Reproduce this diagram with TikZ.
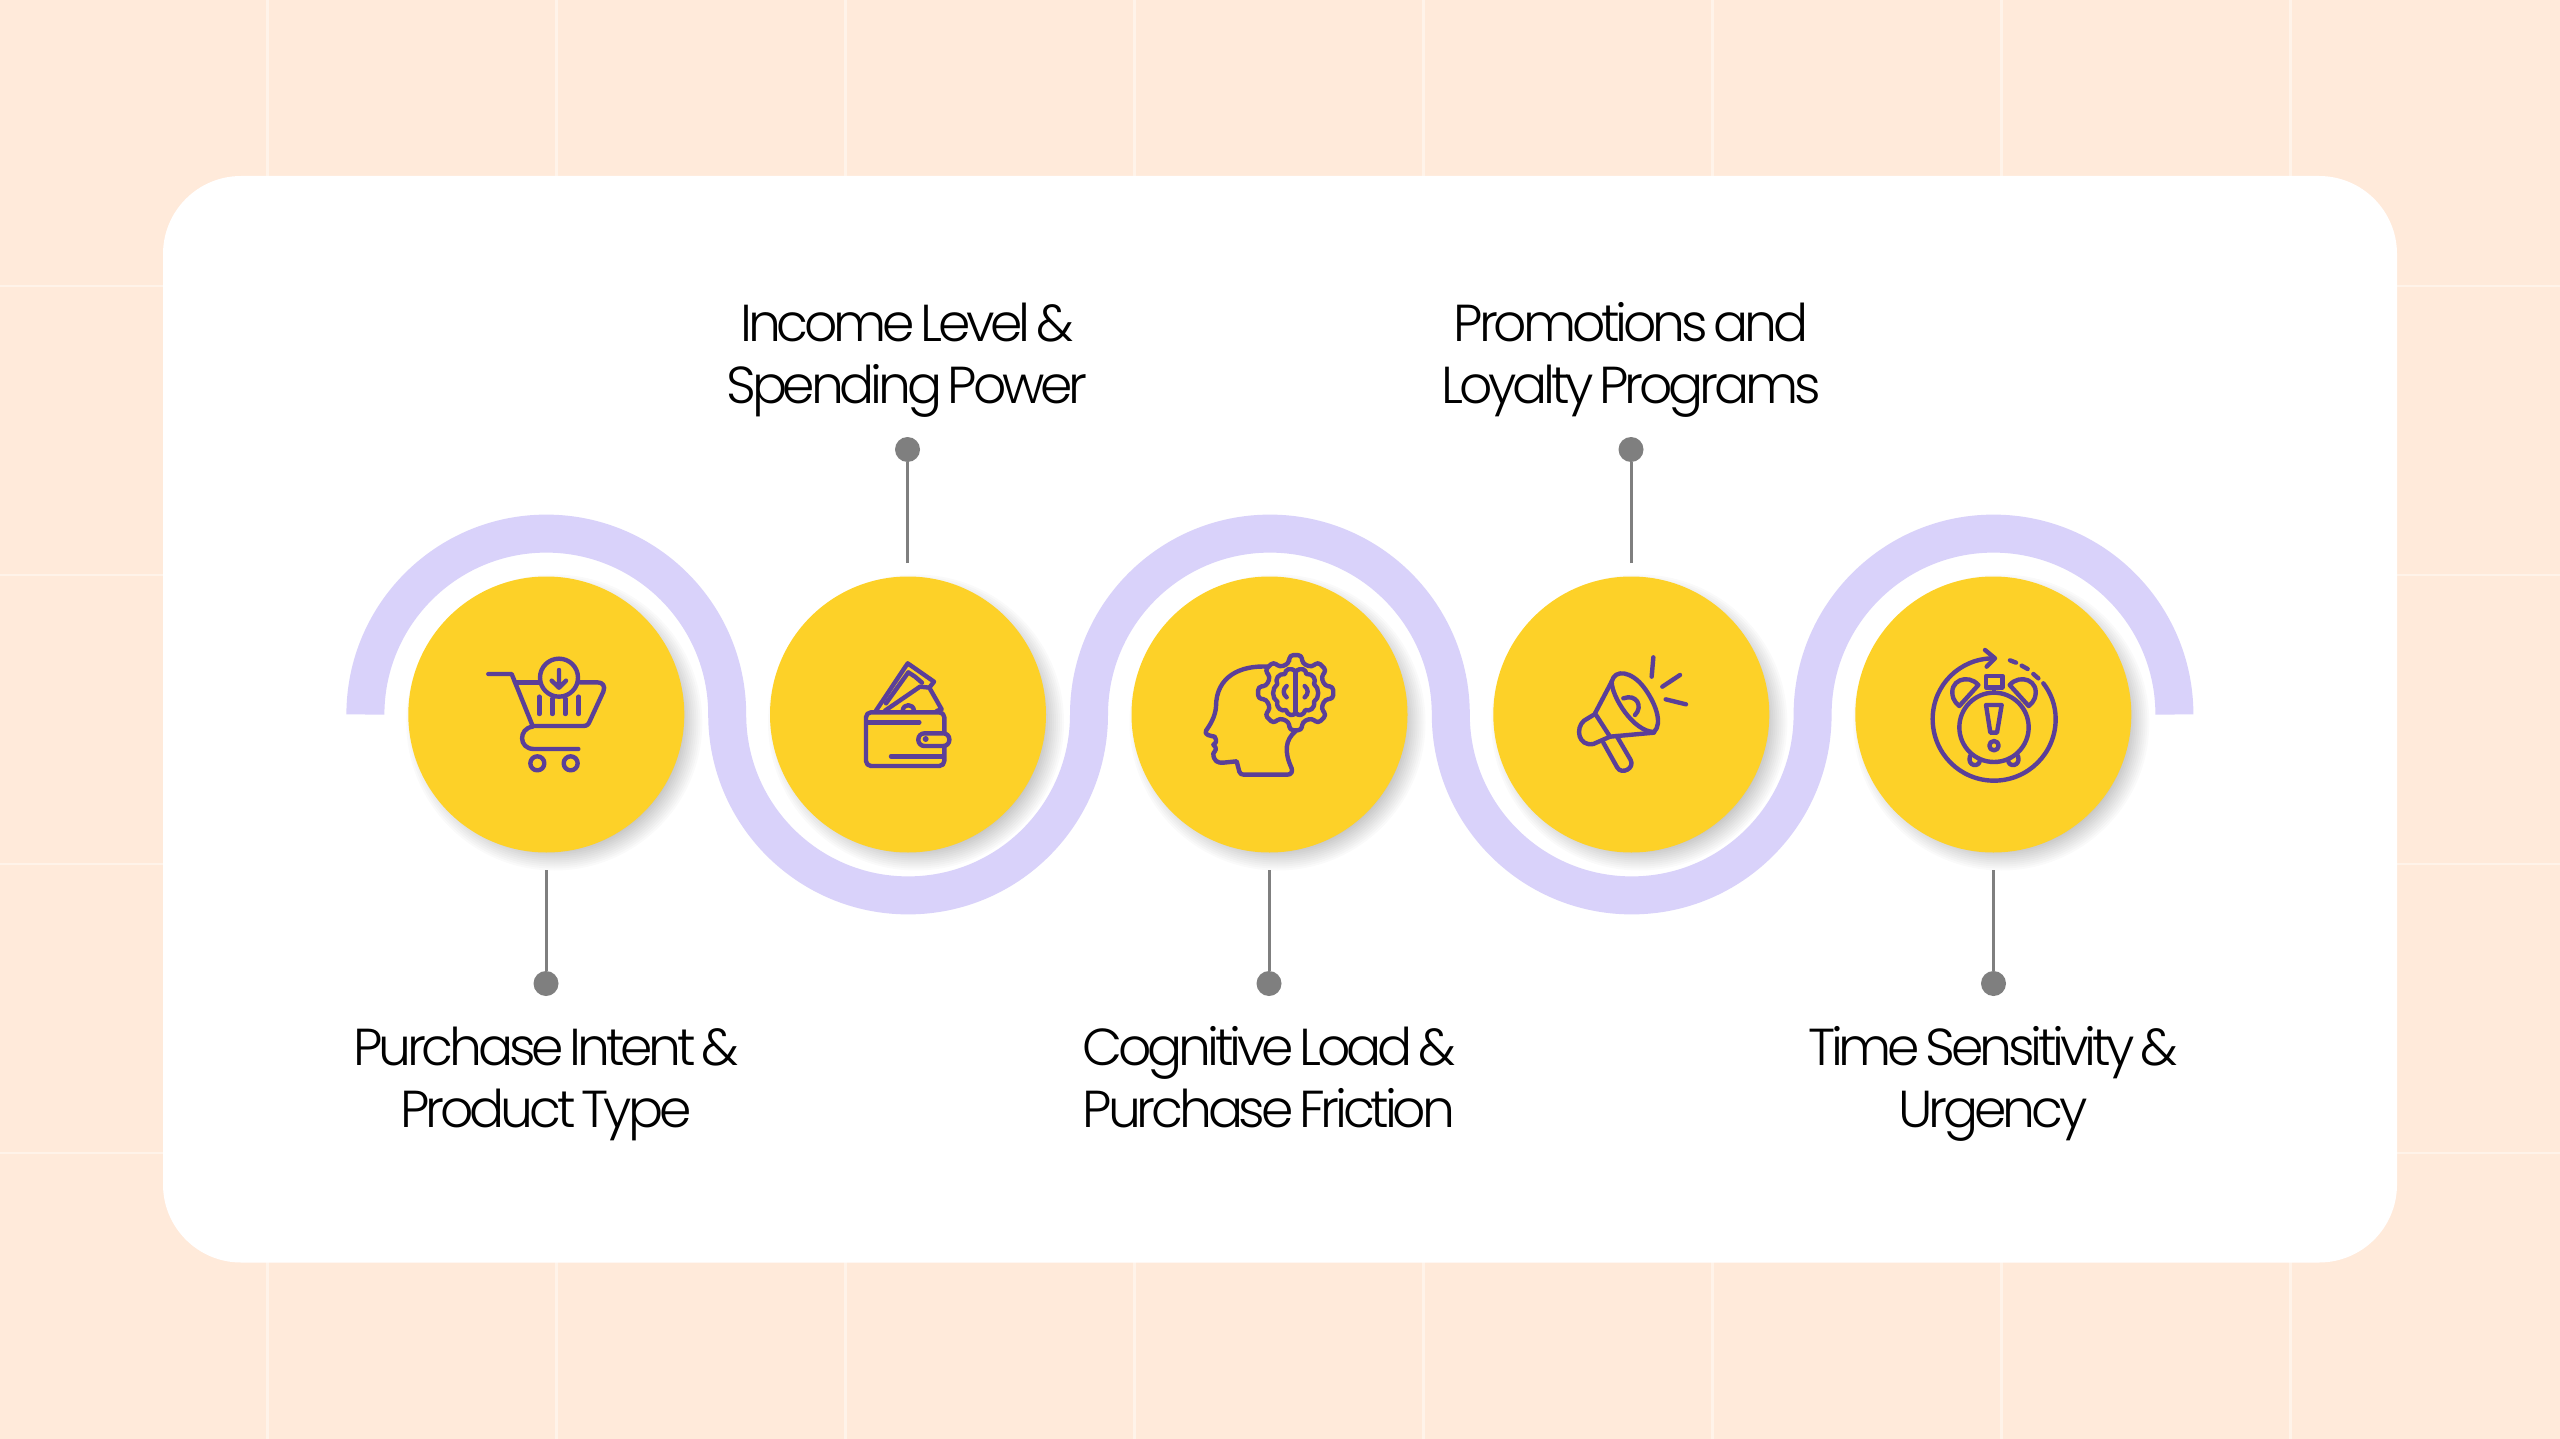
\documentclass[tikz,border=0pt]{standalone}
\usepackage{fontspec}
\setmainfont[LetterSpace=-8,WordSpace=0.55]{Poppins Light}
\definecolor{bgc}{HTML}{FFEADA}
\definecolor{gridc}{HTML}{FFF3E9}
\definecolor{wavec}{HTML}{D9D2FA}
\definecolor{disc}{HTML}{FDD128}
\definecolor{ink}{HTML}{5B3F98}
\definecolor{conn}{HTML}{7F7F7F}
\tikzset{
  x=1pt,y=1pt,
  disc/.style={circle,fill=disc,minimum size=276pt,inner sep=0pt},
  dotnode/.style={circle,fill=conn,minimum size=25pt,inner sep=0pt},
  lead/.style={draw=conn,line width=3pt},
  lab/.style={align=center,font=\fontsize{52}{62}\selectfont,text=black,inner sep=0pt},
  icon/.style={draw=ink,line width=4.4pt,line cap=round,line join=round},
}
\newcommand{\zoomscope}[3]{\begin{scope}[shift={(#1,-#2)},x=0.33333pt,y=-0.33333pt,icon]#3\end{scope}}
\begin{document}
\begin{tikzpicture}
\useasboundingbox (0,0) rectangle (2560,-1439);
\fill[bgc] (0,0) rectangle (2560,-1439);
\foreach \gx in {267.5,556.5,845.5,1134.5,1423.5,1712.5,2001.5,2290.5}
  \draw[gridc,line width=2.5pt] (\gx,0) -- (\gx,-1439);
\foreach \gy in {286,575,864,1153}
  \draw[gridc,line width=2.5pt] (0,-\gy) -- (2560,-\gy);
\fill[white,rounded corners=78pt] (163,-176) rectangle (2397,-1262.5);
% wave
\draw[wavec,line width=38pt] (365.4,-714.5)
  arc[start angle=180,end angle=0,radius=180.9]
  arc[start angle=180,end angle=360,radius=180.9]
  arc[start angle=180,end angle=0,radius=180.9]
  arc[start angle=180,end angle=360,radius=180.9]
  arc[start angle=180,end angle=0,radius=180.9];
% shadows
\foreach \cx in {546.3,908,1269.5,1631.3,1993.3}
  \foreach \sr in {148,146,...,128}
    \fill[black,opacity=0.018] (\cx+8,-714.5-8) circle[radius=\sr];
% discs
\node[disc] (c1) at (546.3,-714.5) {};
\node[disc] (c2) at (908,-714.5) {};
\node[disc] (c3) at (1269.5,-714.5) {};
\node[disc] (c4) at (1631.3,-714.5) {};
\node[disc] (c5) at (1993.3,-714.5) {};
% dots and leaders
\node[dotnode] (d1) at (546,-983.5) {};
\node[dotnode] (d2) at (907.5,-449.5) {};
\node[dotnode] (d3) at (1269,-983.5) {};
\node[dotnode] (d4) at (1631,-449.5) {};
\node[dotnode] (d5) at (1993.5,-983.5) {};
\coordinate (e1) at (546,-870);
\coordinate (e2) at (907.5,-563);
\coordinate (e3) at (1269,-870);
\coordinate (e4) at (1631,-563);
\coordinate (e5) at (1993.5,-870);
\foreach \k in {1,...,5} \draw[lead] (e\k) -- (d\k);
% labels
\node[lab] (t1) at (546,-1084) {\strut Purchase Intent \&\\Product Type\strut};
\node[lab] (t2) at (907,-360) {\strut Income Level \&\\Spending Power\strut};
\node[lab] (t3) at (1269,-1084) {\strut Cognitive Load \&\\Purchase Friction\strut};
\node[lab] (t4) at (1631,-360) {\strut Promotions and\\Loyalty Programs\strut};
\node[lab] (t5) at (1993,-1084) {\strut Time Sensitivity \&\\Urgency\strut};
% cart
\zoomscope{460}{640}{
  \draw (85,102) -- (155,102) -- (218,258) -- (370,258) .. controls (382,258) and (386,252) .. (390,242) -- (430,155) .. controls (437,138) and (428,127) .. (412,127) -- (358,127);
  \draw (165,127) -- (238,127);
  \draw (297,113) circle[radius=57];
  \draw (297,90) -- (297,143) (275,122) -- (297,143) -- (318,122);
  \draw (238,170) -- (238,222) (277,176) -- (277,222) (316,176) -- (316,222) (356,170) -- (356,222);
  \draw (218,260) .. controls (175,265) and (175,327) .. (222,327) -- (355,327);
  \draw (232,370) circle[radius=21] (332,370) circle[radius=21];
}
% wallet
\zoomscope{840}{640}{
  \draw (108,212) -- (203,70) -- (282,125) -- (268,143);
  \draw (138,190) -- (205,97) -- (225,110) -- (246,128);
  \draw (135,212) -- (240,140) -- (268,143) -- (305,208) -- (290,213);
  \draw (188,212) .. controls (190,190) and (220,190) .. (222,212);
  \draw[rounded corners=5pt] (78,217) rectangle (313,378);
  \draw (82,247) -- (238,247) (153,349) -- (310,349);
  \draw[fill=disc,rounded corners=6pt] (235,280) rectangle (328,318);
  \fill[ink] (257,297) circle[radius=9];
}
% head and gear
\zoomscope{1130}{570}{
  \draw (415,290) .. controls (330,285) and (258,320) .. (258,410) .. controls (256,440) and (240,465) .. (228,482) .. controls (222,495) and (240,497) .. (254,500) .. controls (262,515) and (258,518) .. (250,524) .. controls (262,535) and (258,540) .. (250,550) .. controls (250,572) and (262,580) .. (280,578) -- (320,574) -- (328,605) .. controls (330,612) and (335,614) .. (342,614) -- (472,614) .. controls (484,614) and (488,605) .. (485,595) .. controls (462,545) and (465,510) .. (498,482);
  \begin{scope}[shift={(497,368)}]
    \draw[rounded corners=3.5pt] (-103:90)
      \foreach \k in {0,...,7} { -- (-90-9+45*\k:114) -- (-90+9+45*\k:114) -- (-90+13+45*\k:90) -- (-90+32+45*\k:90) } -- cycle;
  \end{scope}
  \draw (497,305) -- (497,432);
  \draw (497,305) .. controls (482,290) and (465,298) .. (465,312) .. controls (445,310) and (434,328) .. (442,342) .. controls (425,355) and (425,385) .. (442,395) .. controls (438,415) and (455,425) .. (468,420) .. controls (472,437) and (490,440) .. (497,428);
  \draw (497,305) .. controls (512,290) and (529,298) .. (529,312) .. controls (549,310) and (560,328) .. (552,342) .. controls (569,355) and (569,385) .. (552,395) .. controls (556,415) and (539,425) .. (526,420) .. controls (522,437) and (504,440) .. (497,428);
  \draw (470,348) .. controls (458,358) and (458,372) .. (470,382);
  \draw (524,348) .. controls (536,358) and (536,372) .. (524,382);
}
% megaphone
\zoomscope{1500}{600}{
  \draw (335,245) .. controls (345,205) and (395,215) .. (430,260) .. controls (465,305) and (490,370) .. (462,396);
  \draw (335,245) .. controls (335,290) and (400,395) .. (462,396);
  \draw (335,245) -- (285,340) -- (330,410);
  \draw (462,398) -- (330,410);
  \draw (285,342) -- (252,362) .. controls (225,385) and (235,440) .. (280,432) -- (330,410);
  \draw (310,428) -- (352,503) .. controls (365,525) and (405,505) .. (392,480) -- (350,408);
  \draw (370,295) .. controls (410,280) and (430,320) .. (405,345);
  \draw (460,172) -- (455,230) (540,225) -- (487,260) (497,298) -- (558,313);
}
% alarm clock
\zoomscope{1860}{600}{
  \draw (400,175) .. controls (300,175) and (218,255) .. (218,357) .. controls (218,460) and (300,542) .. (402,542) .. controls (504,542) and (587,460) .. (587,357) .. controls (587,315) and (572,278) .. (550,250);
  \draw (375,150) -- (405,175) -- (380,200);
  \draw (450,181) -- (468,188) (485,197) -- (503,207) (520,222) -- (535,235);
  \draw (402,382) circle[radius=104];
  \draw (355,255) .. controls (325,220) and (262,240) .. (280,295) .. controls (284,305) and (290,312) .. (298,318) -- cycle;
  \draw (449,255) .. controls (479,220) and (542,240) .. (524,295) .. controls (520,305) and (514,312) .. (506,318) -- cycle;
  \draw (378,228) rectangle (427,262);
  \draw (402,262) -- (402,278);
  \draw (378,315) -- (425,315) -- (411,398) -- (391,398) -- cycle;
  \draw (402,437) circle[radius=14];
  \draw (330,468) .. controls (320,498) and (358,505) .. (360,480);
  \draw (474,468) .. controls (484,498) and (446,505) .. (444,480);
}
\end{tikzpicture}
\end{document}
